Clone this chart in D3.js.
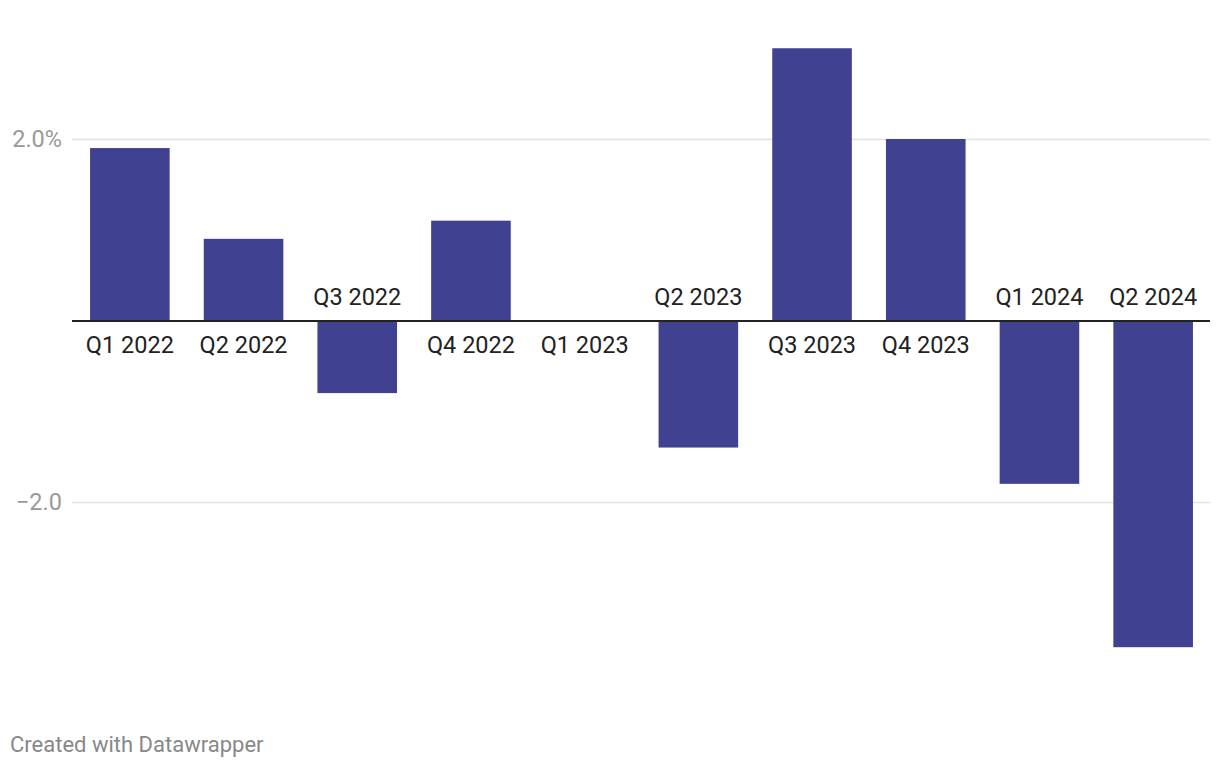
<!DOCTYPE html>
<html>
<head>
<meta charset="utf-8">
<script src="https://cdn.jsdelivr.net/npm/d3@7"></script>
<style>
  body { margin: 0; background: #fff; }
  svg { display: block; font-family: Roboto, sans-serif; }
</style>
</head>
<body>
<svg id="chart" width="1220" height="768"></svg>
<script>
(function() {
  const quarters = ['Q1 2022', 'Q2 2022', 'Q3 2022', 'Q4 2022', 'Q1 2023',
    'Q2 2023', 'Q3 2023', 'Q4 2023', 'Q1 2024', 'Q2 2024'];
  const growth = [1.9, 0.9, -0.8, 1.1, 0, -1.4, 3.0, 2.0, -1.8, -3.6];
  const yTicks = [2, -2];
  const yTickLabels = ['2.0%', '−2.0'];

  const data = quarters.map((q, i) => ({'q': q, 'v': growth[i]}));

  let svg = d3.select('#chart');
  let left = 72, right = 1210;

  let x = d3.scaleBand()
    .domain(quarters)
    .range([left + 1, right])
    .paddingInner(0.3)
    .paddingOuter(0.15);
  let y = d3.scaleLinear()
    .domain([-2, 2])
    .range([502, 139]);

  // grid
  svg.append('g')
    .selectAll('line')
    .data(yTicks)
    .enter()
    .append('line')
    .attr('x1', left)
    .attr('x2', right)
    .attr('y1', d => Math.round(y(d)) + 0.5)
    .attr('y2', d => Math.round(y(d)) + 0.5)
    .attr('stroke', '#e2e2e2')
    .attr('stroke-width', 1.5);
  svg.append('g')
    .selectAll('text')
    .data(yTicks)
    .enter()
    .append('text')
    .attr('x', 62)
    .attr('y', d => y(d) + 8)
    .attr('text-anchor', 'end')
    .attr('fill', '#999')
    .style('font-size', '23.5px')
    .text((d, i) => yTickLabels[i]);

  // bars
  svg.append('g')
    .selectAll('rect')
    .data(data)
    .enter()
    .append('rect')
    .attr('x', d => x(d.q))
    .attr('width', x.bandwidth())
    .attr('y', d => y(Math.max(0, d.v)))
    .attr('height', d => Math.abs(y(d.v) - y(0)))
    .attr('fill', '#404190');

  // zero line
  svg.append('line')
    .attr('x1', left)
    .attr('x2', right)
    .attr('y1', y(0) + 0.5)
    .attr('y2', y(0) + 0.5)
    .attr('stroke', '#222')
    .attr('stroke-width', 2);

  // category labels
  svg.append('g')
    .selectAll('text')
    .data(data)
    .enter()
    .append('text')
    .attr('x', d => x(d.q) + x.bandwidth() / 2)
    .attr('y', d => d.v < 0 ? y(0) - 16 : y(0) + 32)
    .attr('text-anchor', 'middle')
    .attr('fill', '#222')
    .style('font-size', '23.5px')
    .text(d => d.q);

  svg.append('text')
    .attr('x', 10)
    .attr('y', 752)
    .attr('fill', '#888')
    .style('font-size', '22px')
    .text('Created with Datawrapper');
})();
</script>
</body>
</html>
